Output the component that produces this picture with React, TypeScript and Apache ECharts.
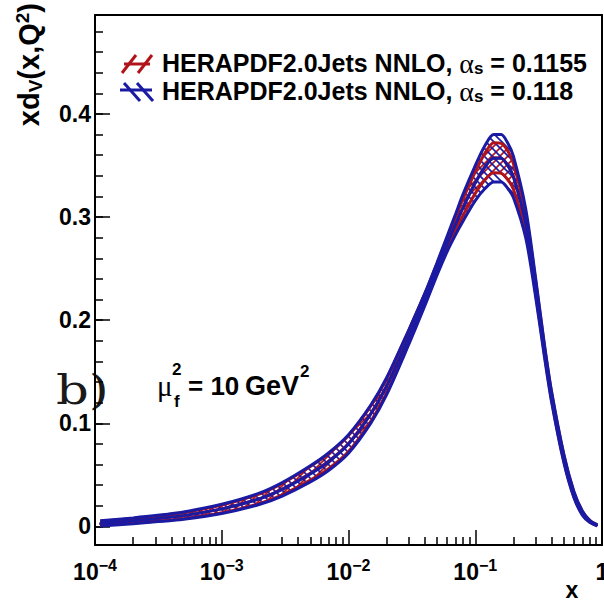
import React, { useEffect, useRef } from 'react';
import * as echarts from 'echarts';

// x positions of the sampled curve points
const X_VALUES = [1.1e-4, 2e-4, 3e-4, 5e-4, 1e-3, 2e-3, 3e-3, 5e-3, 7e-3, 1e-2, 1.5e-2, 2e-2, 3e-2, 4e-2, 5e-2, 6e-2, 7e-2, 8e-2, 0.1, 0.12, 0.14, 0.16, 0.18, 0.2, 0.25, 0.3, 0.35, 0.4, 0.5, 0.6, 0.7, 0.8, 0.92];

// HERAPDF2.0Jets NNLO, alpha_s = 0.1155 (red)
const RED_HIGH = [0.005, 0.0077, 0.01, 0.0135, 0.0208, 0.0317, 0.0417, 0.0581, 0.0708, 0.0883, 0.117, 0.1435, 0.1905, 0.2255, 0.255, 0.2795, 0.3, 0.3175, 0.344, 0.3625, 0.372, 0.3715, 0.3645, 0.352, 0.3035, 0.2375, 0.1765, 0.1297, 0.0692, 0.0333, 0.0146, 0.0058, 0.0014];
const RED_MID = [0.003, 0.0055, 0.0075, 0.0105, 0.017, 0.027, 0.0362, 0.0515, 0.0635, 0.0805, 0.1095, 0.1365, 0.1845, 0.2205, 0.2505, 0.2745, 0.2935, 0.3095, 0.3335, 0.3495, 0.3575, 0.357, 0.3505, 0.3395, 0.2945, 0.2315, 0.1725, 0.1262, 0.0662, 0.0311, 0.0131, 0.005, 0.001];
const RED_LOW = [0.001, 0.0033, 0.005, 0.0075, 0.0132, 0.0223, 0.0307, 0.0449, 0.0562, 0.0727, 0.102, 0.1295, 0.1785, 0.2155, 0.246, 0.2695, 0.287, 0.3015, 0.323, 0.3365, 0.343, 0.3425, 0.3365, 0.327, 0.2855, 0.2255, 0.1685, 0.1227, 0.0632, 0.0289, 0.0116, 0.0042, 0.0006];

// HERAPDF2.0Jets NNLO, alpha_s = 0.118 (blue)
const BLUE_HIGH = [0.0055, 0.0083, 0.0105, 0.014, 0.0215, 0.0325, 0.0425, 0.0588, 0.0715, 0.089, 0.1178, 0.1442, 0.191, 0.226, 0.256, 0.2815, 0.303, 0.322, 0.35, 0.37, 0.38, 0.38, 0.372, 0.359, 0.308, 0.24, 0.178, 0.131, 0.07, 0.034, 0.015, 0.006, 0.0015];
const BLUE_MID = [0.003, 0.0055, 0.0075, 0.0105, 0.017, 0.027, 0.036, 0.051, 0.063, 0.08, 0.109, 0.136, 0.184, 0.22, 0.25, 0.274, 0.293, 0.309, 0.333, 0.349, 0.357, 0.357, 0.35, 0.339, 0.294, 0.231, 0.172, 0.126, 0.066, 0.031, 0.013, 0.005, 0.001];
const BLUE_LOW = [0.0005, 0.0027, 0.0045, 0.007, 0.0125, 0.0215, 0.0295, 0.0432, 0.0545, 0.071, 0.1002, 0.1278, 0.177, 0.214, 0.244, 0.2665, 0.283, 0.296, 0.316, 0.328, 0.334, 0.334, 0.328, 0.319, 0.28, 0.222, 0.166, 0.121, 0.062, 0.028, 0.011, 0.004, 0.0005];

// axis ticks
const X_DECADE_EXPONENTS = [-4, -3, -2, -1, 0];
const X_MINOR_MULTIPLIERS = [2, 3, 4, 5, 6, 7, 8, 9];
const Y_MAJOR_TICKS = [0, 0.1, 0.2, 0.3, 0.4];
const Y_MINOR_TICKS = [0, 0.02, 0.04, 0.06, 0.08, 0.1, 0.12, 0.14, 0.16, 0.18, 0.2, 0.22, 0.24, 0.26, 0.28, 0.3, 0.32, 0.34, 0.36, 0.38, 0.4, 0.42, 0.44, 0.46, 0.48];

const LEGEND_LABELS = ['HERAPDF2.0Jets NNLO, ', 'HERAPDF2.0Jets NNLO, '];
const LEGEND_ALPHAS = ['0.1155', '0.118'];

const RED = '#b0141a';
const BLUE = '#1a1aa2';
const SANS = 'Liberation Sans, Arial, Helvetica, sans-serif';
const SERIF = 'Liberation Serif, Times New Roman, serif';

function makeHatch(color: string, dir: 'up' | 'down'): string {
  const c = document.createElement('canvas');
  c.width = 8;
  c.height = 8;
  const ctx = c.getContext('2d');
  if (!ctx) return '';
  ctx.strokeStyle = color;
  ctx.lineWidth = 1.6;
  ctx.beginPath();
  if (dir === 'up') {
    ctx.moveTo(-1, 9); ctx.lineTo(9, -1);
    ctx.moveTo(-5, 5); ctx.lineTo(5, -5);
    ctx.moveTo(3, 13); ctx.lineTo(13, 3);
  } else {
    ctx.moveTo(-1, -1); ctx.lineTo(9, 9);
    ctx.moveTo(-5, 3); ctx.lineTo(5, 13);
    ctx.moveTo(3, -5); ctx.lineTo(13, 5);
  }
  ctx.stroke();
  return c.toDataURL();
}

const lx = (v: number) => Math.log10(v);
const SMOOTH = 0.3;

export default function App() {
  const ref = useRef<HTMLDivElement>(null);

  useEffect(() => {
    if (!ref.current) return;
    const chart = echarts.init(ref.current, null, { renderer: 'svg' });

    const redHatch = makeHatch(RED, 'up');
    const blueHatch = makeHatch(BLUE, 'down');

    const pts = (arr: number[]) => X_VALUES.map((x, i) => [lx(x), arr[i]]);

    const xMinor: number[] = [];
    X_DECADE_EXPONENTS.slice(0, -1).forEach((e) => {
      X_MINOR_MULTIPLIERS.forEach((m) => xMinor.push(lx(m * Math.pow(10, e))));
    });

    const lineSeries = (name: string, data: number[][], color: string, z: number) => ({
      type: 'line', name, data, smooth: SMOOTH, showSymbol: false, symbol: 'none',
      lineStyle: { color, width: 3 }, z, silent: true,
    });
    const bandSeries = (name: string, hi: number[], lo: number[], img: string, z: number) => ({
      type: 'custom', name, data: [[lx(X_VALUES[0]), lo[0]]], z, silent: true,
      renderItem: (_p: any, api: any) => {
        const top = X_VALUES.map((x, i) => api.coord([lx(x), hi[i]]));
        const bottom = X_VALUES.map((x, i) => api.coord([lx(x), lo[i]])).reverse();
        return {
          type: 'polygon',
          shape: { points: top.concat(bottom), smooth: SMOOTH },
          style: { fill: { image: img, repeat: 'repeat', imageWidth: 8, imageHeight: 8 }, stroke: 'none' },
        };
      },
    });

    const labelFont = { fontFamily: SANS, fontWeight: 'bold', color: '#000' };

    const legendRows = [0, 1].map((i) => {
      const y = i === 0 ? 63 : 91;
      return {
        type: 'text', x: 162, y,
        style: {
          text: `{t|${LEGEND_LABELS[i]}}{a|α}{s|s}{t| = ${LEGEND_ALPHAS[i]}}`,
          textVerticalAlign: 'middle', textAlign: 'left',
          rich: {
            t: { ...labelFont, fontSize: 25, lineHeight: 28 },
            a: { fontFamily: SERIF, fontSize: 28, lineHeight: 28, color: '#000' },
            s: { ...labelFont, fontSize: 17, lineHeight: 12, verticalAlign: 'bottom' },
          },
        },
      };
    });

    const option = {
      animation: false,
      backgroundColor: '#fff',
      grid: { left: 95, right: 2, top: 15, bottom: 59, show: true, borderColor: '#000', borderWidth: 2, backgroundColor: 'transparent', containLabel: false, outerBoundsMode: 'none' },
      xAxis: [
        {
          type: 'value', min: -4, max: 0, position: 'bottom',
          axisLine: { onZero: false, lineStyle: { color: '#000', width: 2 } },
          axisTick: { inside: true, length: 8, customValues: xMinor, lineStyle: { color: '#000', width: 1.5 } },
          axisLabel: { show: false }, splitLine: { show: false },
        },
        {
          type: 'value', min: -4, max: 0, position: 'bottom',
          axisLine: { show: false, onZero: false },
          axisTick: { inside: true, length: 15, customValues: X_DECADE_EXPONENTS, lineStyle: { color: '#000', width: 1.5 } },
          axisLabel: {
            customValues: X_DECADE_EXPONENTS, margin: 12,
            formatter: (v: number) => (Math.round(v) === 0 ? '{b|1}' : `{b|10}{p|−${Math.abs(Math.round(v))}}`),
            rich: {
              b: { ...labelFont, fontSize: 23, lineHeight: 30 },
              p: { ...labelFont, fontSize: 16, lineHeight: 14, verticalAlign: 'top' },
            },
          },
          splitLine: { show: false },
        },
      ],
      yAxis: [
        {
          type: 'value', min: -0.018, max: 0.496, position: 'left',
          axisLine: { onZero: false, lineStyle: { color: '#000', width: 2 } },
          axisTick: { inside: true, length: 8, customValues: Y_MINOR_TICKS, lineStyle: { color: '#000', width: 1.5 } },
          axisLabel: { show: false }, splitLine: { show: false },
        },
        {
          type: 'value', min: -0.018, max: 0.496, position: 'left',
          axisLine: { show: false, onZero: false },
          axisTick: { inside: true, length: 15, customValues: Y_MAJOR_TICKS, lineStyle: { color: '#000', width: 1.5 } },
          axisLabel: {
            customValues: Y_MAJOR_TICKS, margin: 4, ...labelFont, fontSize: 23,
            formatter: (v: number) => (v === 0 ? '0' : v.toFixed(1)),
          },
          splitLine: { show: false },
        },
      ],
      series: [
        bandSeries('red band', RED_HIGH, RED_LOW, redHatch, 1),
        bandSeries('blue band', BLUE_HIGH, BLUE_LOW, blueHatch, 2),
        lineSeries('red high', pts(RED_HIGH), RED, 5),
        lineSeries('red mid', pts(RED_MID), RED, 5),
        lineSeries('red low', pts(RED_LOW), RED, 5),
        lineSeries('blue high', pts(BLUE_HIGH), BLUE, 6),
        lineSeries('blue mid', pts(BLUE_MID), BLUE, 6),
        lineSeries('blue low', pts(BLUE_LOW), BLUE, 6),
      ],
      graphic: [
        {
          type: 'text', x: 29, y: 3, rotation: Math.PI / 2,
          style: {
            text: '{t|xd}{s|V}{t|(x,Q}{p|2}{t|)}',
            textAlign: 'right', textVerticalAlign: 'middle',
            rich: {
              t: { ...labelFont, fontSize: 29, lineHeight: 32 },
              s: { ...labelFont, fontSize: 19, lineHeight: 12, verticalAlign: 'bottom' },
              p: { ...labelFont, fontSize: 19, lineHeight: 12, verticalAlign: 'top' },
            },
          },
        },
        { type: 'text', x: 572, y: 590, style: { text: 'x', ...labelFont, fontSize: 23, textAlign: 'center', textVerticalAlign: 'middle', fill: '#000' } },
        ...legendRows,
        // legend icons
        { type: 'line', shape: { x1: 122, y1: 73, x2: 136, y2: 55 }, style: { stroke: RED, lineWidth: 3 } },
        { type: 'line', shape: { x1: 138, y1: 73, x2: 152, y2: 55 }, style: { stroke: RED, lineWidth: 3 } },
        { type: 'line', shape: { x1: 124, y1: 64, x2: 150, y2: 64 }, style: { stroke: RED, lineWidth: 3 } },
        { type: 'line', shape: { x1: 124, y1: 83, x2: 140, y2: 101 }, style: { stroke: BLUE, lineWidth: 3 } },
        { type: 'line', shape: { x1: 137, y1: 83, x2: 153, y2: 101 }, style: { stroke: BLUE, lineWidth: 3 } },
        { type: 'line', shape: { x1: 120, y1: 90, x2: 152, y2: 90 }, style: { stroke: BLUE, lineWidth: 3 } },
        // annotations
        { type: 'text', x: 56, y: 390, scaleX: 1.25, style: { text: 'b)', fontFamily: 'DejaVu Serif, serif', fontSize: 41, fill: '#1a1a1a', textAlign: 'left', textVerticalAlign: 'middle' } },
        { type: 'text', x: 157, y: 386, style: { text: 'μ', fontFamily: SERIF, fontSize: 29, fill: '#000', textAlign: 'left', textVerticalAlign: 'middle' } },
        { type: 'text', x: 172, y: 369, style: { text: '2', ...labelFont, fontSize: 17, fill: '#000', textAlign: 'left', textVerticalAlign: 'middle' } },
        { type: 'text', x: 174, y: 401, style: { text: 'f', ...labelFont, fontSize: 17, fill: '#000', textAlign: 'left', textVerticalAlign: 'middle' } },
        { type: 'text', x: 188, y: 386, style: { text: '= 10', ...labelFont, fontSize: 26, fill: '#000', textAlign: 'left', textVerticalAlign: 'middle' } },
        { type: 'text', x: 245, y: 386, style: { text: 'GeV', ...labelFont, fontSize: 27, fill: '#000', textAlign: 'left', textVerticalAlign: 'middle' } },
        { type: 'text', x: 300, y: 371, style: { text: '2', ...labelFont, fontSize: 17, fill: '#000', textAlign: 'left', textVerticalAlign: 'middle' } },
      ],
    };

    chart.setOption(option as any);
    return () => chart.dispose();
  }, []);

  return <div ref={ref} style={{ position: 'absolute', left: 0, top: 0, width: 604, height: 604, background: '#fff' }} />;
}
